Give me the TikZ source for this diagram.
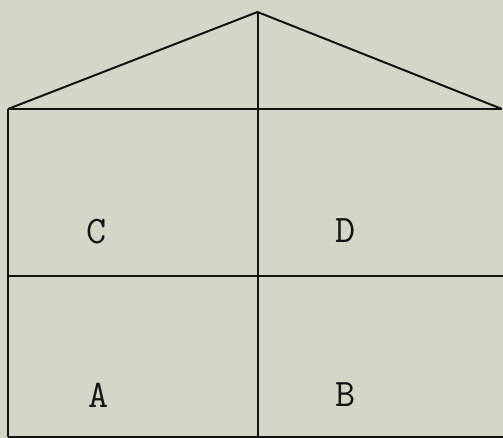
\documentclass[tikz,border=0pt]{standalone}
\definecolor{paper}{RGB}{214,214,200}
\definecolor{ink}{RGB}{20,20,20}
\tikzset{
  wall/.style={draw=ink, line width=2pt},
  lbl/.style={font=\fontsize{39}{39}\selectfont\ttfamily, text=ink, inner sep=0pt, anchor=center}
}
\begin{document}
\begin{tikzpicture}[x=1pt,y=-1pt]
\fill[paper] (0,0) rectangle (503,438);
\useasboundingbox (0,0) rectangle (503,438);
\coordinate (apex) at (257.5,12);
\coordinate (rl) at (8,109);
\coordinate (rr) at (502,109);
\coordinate (rm) at (257.5,109);
\coordinate (ml) at (8,276);
\coordinate (mm) at (257.5,276);
\coordinate (mr) at (503,276);
\coordinate (bl) at (8,437);
\coordinate (bm) at (257.5,437);
\coordinate (br) at (503,437);
\draw[wall, line join=round] (rl) -- (apex) -- (rr);
\draw[wall] (rl) -- (rr);
\draw[wall] (ml) -- (mr);
\draw[wall] (bl) -- (br);
\draw[wall] (rl) -- (bl);
\draw[wall] (apex) -- (bm);
\node[lbl] (C) at (97,232) {C};
\node[lbl] (D) at (346,231) {D};
\node[lbl] (A) at (99,395) {A};
\node[lbl] (B) at (346,395) {B};
\end{tikzpicture}
\end{document}
